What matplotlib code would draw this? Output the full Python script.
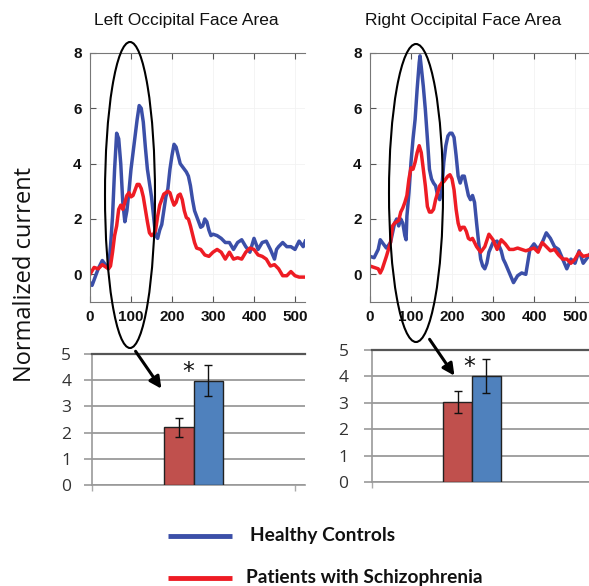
import matplotlib
matplotlib.use("Agg")
import matplotlib.pyplot as plt
from matplotlib.patches import Ellipse
import numpy as np

# ---------------- data ----------------
# Left Occipital Face Area (time in ms, normalized current)
lt_blue = [0, 5, 10, 20, 30, 40, 45, 50, 55, 60, 65, 70, 75, 80, 85, 90, 95, 100, 105, 110, 115, 120, 125,
           130, 135, 140, 145, 150, 155, 160, 165, 170, 175, 180, 185, 190, 195, 200, 205, 210, 215, 220,
           225, 230, 235, 240, 245, 250, 255, 260, 265, 270, 275, 280, 285, 290, 295, 300, 310, 320, 330,
           340, 350, 360, 370, 380, 390, 400, 410, 420, 430, 440, 450, 455, 460, 470, 480, 490, 500, 510, 520, 525]
lv_blue = [-0.3, -0.4, -0.2, 0.2, 0.5, 0.3, 0.2, 1.0, 2.1, 3.8, 5.1, 4.9, 4.0, 2.6, 1.9, 2.3, 3.0, 3.8, 4.4, 5.0,
           5.6, 6.1, 6.0, 5.5, 4.6, 3.8, 3.3, 2.8, 2.1, 1.4, 1.3, 1.6, 1.8, 2.3, 2.8, 3.1, 3.8, 4.3, 4.7, 4.6,
           4.3, 4.0, 3.9, 3.8, 3.7, 3.55, 3.2, 2.7, 2.3, 2.1, 1.9, 1.7, 1.75, 2.0, 1.9, 1.6, 1.4, 1.45, 1.4,
           1.3, 1.15, 1.15, 0.9, 1.15, 1.25, 1.0, 0.8, 1.3, 0.9, 1.15, 1.2, 0.9, 0.55, 0.9, 1.0, 1.15, 1.0,
           1.0, 0.9, 1.2, 1.0, 1.2]
lt_red = [0, 10, 20, 30, 40, 45, 50, 55, 60, 65, 70, 75, 80, 85, 90, 95, 100, 105, 110, 115, 120, 125, 130,
          135, 140, 145, 150, 155, 160, 165, 170, 175, 180, 185, 190, 195, 200, 205, 210, 215, 220, 225, 230,
          235, 240, 245, 250, 255, 260, 270, 280, 290, 300, 310, 320, 330, 340, 350, 360, 370, 380, 390, 400,
          410, 420, 430, 440, 450, 460, 470, 480, 490, 500, 510, 525]
lv_red = [0.0, 0.25, 0.2, 0.35, 0.25, 0.2, 0.3, 0.8, 1.4, 1.75, 2.35, 2.5, 2.35, 2.6, 2.85, 2.95, 2.8, 2.85,
          3.05, 3.25, 3.25, 3.1, 2.8, 2.35, 1.9, 1.5, 1.4, 1.45, 1.6, 2.1, 2.5, 2.7, 2.9, 2.95, 3.0, 2.95, 2.7,
          2.5, 2.6, 2.85, 2.9, 2.7, 2.3, 2.05, 2.0, 1.75, 1.45, 1.15, 0.95, 0.9, 0.7, 0.65, 0.8, 0.9, 0.8, 0.55,
          0.8, 0.55, 0.6, 0.55, 0.8, 0.95, 0.9, 0.7, 0.65, 0.55, 0.3, 0.35, 0.2, -0.05, -0.05, 0.1, -0.05, -0.1, -0.1]

# Right Occipital Face Area
rt_blue = [0, 10, 20, 25, 30, 40, 50, 55, 60, 65, 70, 75, 80, 85, 88, 90, 95, 100, 105, 110, 115, 120, 122,
           125, 130, 135, 140, 145, 150, 155, 160, 165, 170, 175, 180, 185, 190, 195, 200, 205, 210, 215, 220,
           225, 230, 235, 240, 245, 250, 255, 260, 265, 270, 275, 280, 285, 290, 300, 310, 320, 325, 330, 340,
           350, 360, 370, 380, 390, 400, 410, 420, 430, 440, 450, 460, 470, 480, 490, 500, 510, 520, 535]
rv_blue = [0.65, 0.6, 0.9, 1.25, 1.15, 0.95, 1.15, 1.5, 1.85, 2.0, 1.75, 2.0, 1.85, 1.4, 1.25, 2.1, 2.95, 4.05,
           4.9, 5.6, 6.7, 7.65, 7.9, 7.5, 6.8, 5.95, 4.9, 3.8, 3.45, 3.3, 3.2, 2.85, 2.7, 3.05, 4.05, 4.65, 5.0,
           5.1, 5.1, 4.95, 4.3, 3.55, 3.3, 3.55, 3.55, 3.2, 2.85, 2.7, 2.85, 2.6, 1.85, 1.15, 0.55, 0.3, 0.2,
           0.4, 0.8, 1.15, 1.2, 0.85, 0.55, 0.4, 0.05, -0.3, -0.05, 0.05, 0.0, 0.9, 1.1, 0.9, 1.15, 1.5, 1.3,
           1.0, 0.9, 0.55, 0.2, 0.55, 0.4, 0.85, 0.4, 0.7]
rt_red = [0, 10, 20, 25, 30, 40, 50, 55, 60, 70, 75, 80, 85, 90, 95, 100, 105, 110, 115, 120, 125, 130, 135,
          140, 145, 150, 155, 160, 165, 170, 175, 180, 185, 190, 195, 200, 205, 210, 215, 220, 225, 230, 235,
          240, 245, 250, 255, 260, 270, 280, 290, 300, 310, 320, 330, 340, 350, 360, 370, 380, 390, 400, 410,
          420, 430, 440, 450, 460, 470, 480, 490, 500, 510, 520, 535]
rv_red = [0.3, 0.25, 0.2, 0.05, 0.2, 0.65, 1.15, 1.75, 1.85, 1.95, 2.25, 2.4, 2.6, 2.85, 3.45, 3.85, 3.8, 4.05,
          4.4, 4.65, 4.4, 3.8, 3.2, 2.45, 2.25, 2.25, 2.35, 2.7, 2.95, 3.2, 3.3, 3.35, 3.45, 3.55, 3.6, 3.45,
          3.05, 2.35, 1.85, 1.6, 1.7, 1.7, 1.55, 1.3, 1.25, 1.3, 1.15, 1.0, 0.8, 1.0, 1.45, 1.25, 0.9, 1.25,
          1.1, 0.9, 0.9, 0.95, 0.9, 0.85, 0.9, 0.95, 0.8, 1.15, 1.0, 0.85, 0.9, 0.7, 0.55, 0.55, 0.4, 0.55,
          0.8, 0.65, 0.7]

# bar summaries: [patients, controls]
bar_groups = ["Patients with Schizophrenia", "Healthy Controls"]
left_means = [2.2, 3.98]
left_errs = [0.37, 0.59]
right_means = [3.04, 4.02]
right_errs = [0.42, 0.65]

titles = ["Left Occipital Face Area", "Right Occipital Face Area"]
ylabel = "Normalized current"

BLUE = "#3b4fa8"
RED = "#ee1c24"
BAR_RED = "#c0504d"
BAR_BLUE = "#4f81bd"

W, H = 589, 586
fig = plt.figure(figsize=(W / 100, H / 100), dpi=100)
fig.patch.set_facecolor("white")


def frac(l, t, r, b):
    return [l / W, 1 - b / H, (r - l) / W, (b - t) / H]


def line_axes(rect, tb, vb, tr, vr, xmax, title, title_x):
    ax = fig.add_axes(rect)
    ax.plot(tb, vb, color=BLUE, lw=2.5, solid_joinstyle="round")
    ax.plot(tr, vr, color=RED, lw=2.5, solid_joinstyle="round")
    ax.set_xlim(0, xmax)
    ax.set_ylim(-1, 8)
    ax.set_xticks([0, 100, 200, 300, 400, 500])
    ax.set_yticks([0, 2, 4, 6, 8])
    ax.tick_params(direction="in", top=True, right=False, length=4, width=0.8,
                   colors="#555555", labelcolor="#111111", labelsize=11, pad=6)
    for lab in ax.get_xticklabels() + ax.get_yticklabels():
        lab.set_fontfamily("Liberation Sans")
        lab.set_fontweight("bold")
    for s in ["left", "bottom", "top"]:
        ax.spines[s].set_color("#777777")
        ax.spines[s].set_linewidth(0.8)
    ax.spines["right"].set_visible(False)
    ax.grid(True, color="#f2f2f2", lw=0.6)
    ax.set_axisbelow(True)
    fig.text(title_x / W, 1 - 20 / H, title, family="Liberation Sans", fontsize=12.5,
             ha="left", va="center", color="#111111")
    return ax


line_axes(frac(90, 53, 305, 302), lt_blue, lv_blue, lt_red, lv_red, (305 - 90) / 0.41,
          titles[0], 94)
line_axes(frac(370, 53, 589, 302), rt_blue, rv_blue, rt_red, rv_red, (589 - 370) / 0.41,
          titles[1], 365)


def bar_axes(rect, means, errs, xmax, star_xy, pad, xticks):
    ax = fig.add_axes(rect)
    xs = [0.5 - 0.0715, 0.5 + 0.0715]
    ax.bar(xs, means, width=0.143, color=[BAR_RED, BAR_BLUE], edgecolor="#222222", lw=1.0,
           yerr=errs, error_kw=dict(ecolor="#111111", elinewidth=1.0, capsize=3, capthick=1.0),
           zorder=3)
    ax.set_xlim(0, xmax)
    ax.set_ylim(0, 5)
    ax.set_yticks([0, 1, 2, 3, 4, 5])
    ax.set_xticks(xticks)
    ax.set_xticklabels([])
    ax.tick_params(axis="x", direction="out", length=4, color="#aaaaaa", width=1.0)
    ax.tick_params(axis="y", direction="out", length=6, color="#999999", width=1.2,
                   labelsize=12.5, pad=pad, labelcolor="#333333")
    for lab in ax.get_yticklabels():
        lab.set_fontfamily("Open Sans")
    ax.grid(axis="y", color="#9a9a9a", lw=1.3)
    ax.set_axisbelow(True)
    ax.spines["left"].set_color("#999999")
    ax.spines["left"].set_linewidth(1.2)
    ax.spines["bottom"].set_color("#999999")
    ax.spines["bottom"].set_linewidth(1.2)
    ax.spines["top"].set_color("#555555")
    ax.spines["top"].set_linewidth(1.6)
    ax.spines["right"].set_visible(False)
    ax.text(star_xy[0], star_xy[1], "*", fontsize=17, ha="center", va="center",
            family="DejaVu Sans", color="#111111")
    return ax


bar_axes(frac(92, 354, 305, 485), left_means, left_errs, (305 - 92) / 203, (0.473, 4.3), 9, [0, 1])
bar_axes(frac(372, 350, 589, 482), right_means, right_errs, (589 - 372) / 200, (0.485, 4.35), 11, [0])

# overlay for annotations (ellipses, arrows, legend)
ov = fig.add_axes([0, 0, 1, 1], zorder=10)
ov.set_xlim(0, W)
ov.set_ylim(H, 0)
ov.axis("off")
ov.patch.set_alpha(0)

ov.add_patch(Ellipse((130, 195), 50, 306, fill=False, ec="black", lw=1.5))
ov.add_patch(Ellipse((416, 193), 54, 298, fill=False, ec="black", lw=1.5))
ov.annotate("", xy=(163, 391), xytext=(134, 349),
            arrowprops=dict(arrowstyle="-|>,head_length=0.7,head_width=0.35", lw=2.2, color="black"))
ov.annotate("", xy=(456, 378), xytext=(428, 337),
            arrowprops=dict(arrowstyle="-|>,head_length=0.7,head_width=0.35", lw=2.2, color="black"))

# legend
ov.plot([168, 232], [536, 536], color=BLUE, lw=3.5, solid_capstyle="butt")
ov.plot([168, 232], [578, 578], color=RED, lw=3.5, solid_capstyle="butt")
ov.text(250, 536, bar_groups[1], family="Lato", fontweight="bold", fontsize=13.8,
        ha="left", va="center", color="#111111")
ov.text(246, 578, bar_groups[0], family="Lato", fontweight="bold", fontsize=13.8,
        ha="left", va="center", color="#111111")

fig.text(25 / W, 1 - 275 / H, ylabel, family="Open Sans", fontsize=17, rotation=90,
         ha="center", va="center", color="#111111")

fig.savefig("out.png", dpi=100, facecolor="white")
